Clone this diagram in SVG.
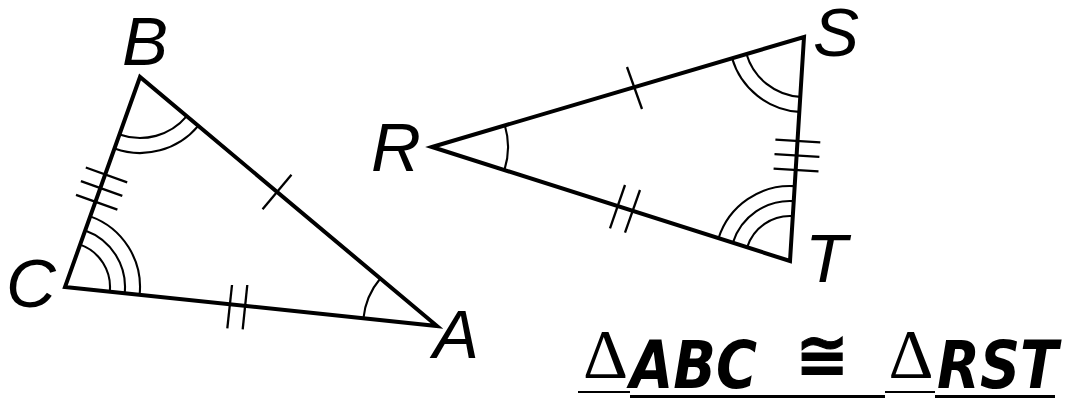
<svg xmlns="http://www.w3.org/2000/svg" width="1065" height="398" viewBox="0 0 1065 398">
<style>
.tri{fill:none;stroke:#000;stroke-width:4;stroke-linejoin:miter;stroke-miterlimit:12}
.mk{fill:none;stroke:#000;stroke-width:2.3;stroke-linecap:butt}
.arc{fill:none;stroke:#000;stroke-width:2.1}
.lbl{font-family:"Liberation Sans",Arial,sans-serif;font-style:italic;font-size:69px;fill:#000;text-anchor:middle}
.delta{font-family:"Liberation Serif","DejaVu Serif",serif;font-size:70px;fill:#000;text-anchor:middle}
.stmt{font-family:"DejaVu Sans",sans-serif;font-weight:bold;font-style:italic;font-size:66px;fill:#000}
.ul1{stroke:#000;stroke-width:2}
.ul2{stroke:#000;stroke-width:3}
</style>
<rect width="1065" height="398" fill="#fff"/>
<g id="triangle-ABC">
<polygon class="tri" points="140,77 65,287 437,326"/>
<path class="arc" d="M119.49,134.44 A61,61 0 0 0 186.74,116.19"/>
<path class="arc" d="M114.44,148.57 A76,76 0 0 0 198.24,125.82"/>
<path class="arc" d="M109.76,291.69 A45,45 0 0 0 80.13,244.62"/>
<path class="arc" d="M124.68,293.26 A60,60 0 0 0 85.18,230.50"/>
<path class="arc" d="M139.60,294.82 A75,75 0 0 0 90.22,216.37"/>
<path class="arc" d="M363.40,318.28 A74,74 0 0 1 380.29,278.46"/>
<line class="mk" x1="262.55" y1="209.24" x2="291.45" y2="174.76"/>
<line class="mk" x1="85.8" y1="167.5" x2="127.2" y2="182.3"/>
<line class="mk" x1="80.9" y1="181.1" x2="122.3" y2="195.9"/>
<line class="mk" x1="76.0" y1="194.8" x2="117.4" y2="209.6"/>
<line class="mk" x1="227.3" y1="328.3" x2="232" y2="285"/>
<line class="mk" x1="242.7" y1="329.3" x2="247.3" y2="285"/>
</g>
<g id="triangle-RST">
<polygon class="tri" points="432,147 804,37 790,261"/>
<path class="arc" d="M504.88,125.45 A76,76 0 0 1 504.42,170.06"/>
<path class="arc" d="M746.46,54.02 A60,60 0 0 0 800.26,96.89"/>
<path class="arc" d="M732.08,58.27 A75,75 0 0 0 799.32,111.86"/>
<path class="arc" d="M747.12,247.35 A45,45 0 0 1 792.81,216.09"/>
<path class="arc" d="M732.83,242.80 A60,60 0 0 1 793.74,201.11"/>
<path class="arc" d="M718.53,238.25 A75,75 0 0 1 794.68,186.14"/>
<line class="mk" x1="627" y1="67" x2="642" y2="109"/>
<line class="mk" x1="775.4" y1="139.6" x2="820.3" y2="142.4"/>
<line class="mk" x1="774.5" y1="154.1" x2="819.4" y2="156.9"/>
<line class="mk" x1="773.6" y1="168.6" x2="818.5" y2="171.4"/>
<line class="mk" x1="610" y1="228.3" x2="625" y2="185"/>
<line class="mk" x1="625" y1="232.7" x2="640" y2="190"/>
</g>
<g id="labels">
<text class="lbl" x="145" y="65">B</text>
<text class="lbl" x="31" y="307">C</text>
<text class="lbl" x="456" y="358">A</text>
<text class="lbl" x="396" y="171">R</text>
<text class="lbl" x="836" y="56">S</text>
<text class="lbl" x="826" y="282">T</text>
</g>
<g id="statement">
<line class="ul1" x1="578" y1="392" x2="630" y2="392"/>
<line class="ul2" x1="630" y1="396.5" x2="885" y2="396.5"/>
<line class="ul1" x1="885" y1="392" x2="935" y2="392"/>
<line class="ul2" x1="935" y1="396.5" x2="1055" y2="396.5"/>
<text class="delta" x="605.5" y="378">Δ</text>
<text class="stmt" x="630" y="388" textLength="127" lengthAdjust="spacingAndGlyphs">ABC</text>
<text class="stmt" x="822" y="377" style="font-style:normal;font-size:64px;text-anchor:middle;stroke:#000;stroke-width:1">≅</text>
<text class="delta" x="911" y="378">Δ</text>
<text class="stmt" x="937" y="388" textLength="121" lengthAdjust="spacingAndGlyphs">RST</text>
</g>
</svg>
